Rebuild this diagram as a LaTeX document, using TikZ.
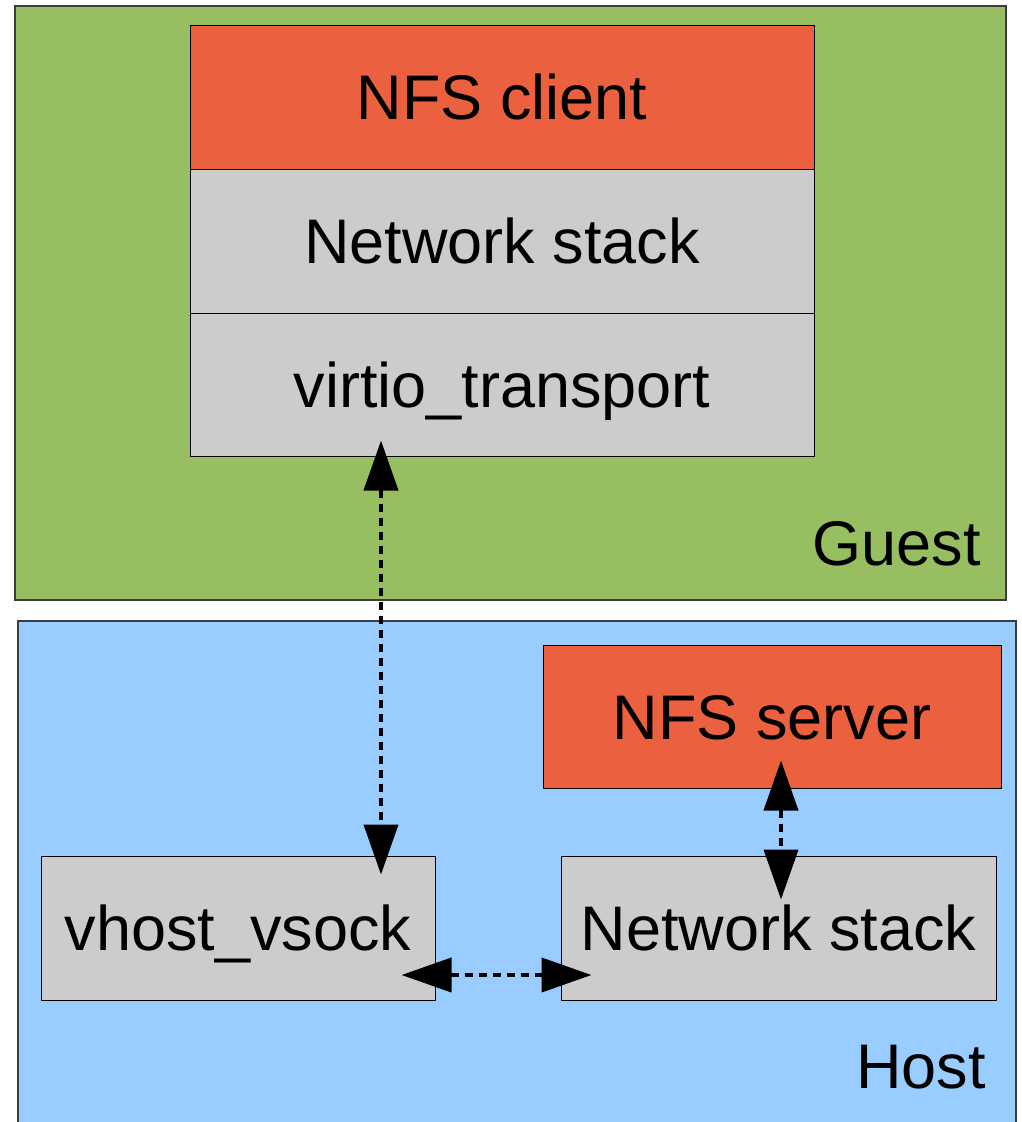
\documentclass[tikz,border=0pt]{standalone}
\usepackage{fontspec}
\setmainfont{Liberation Sans}
\usetikzlibrary{arrows.meta}
\definecolor{guestgreen}{RGB}{151,190,96}
\definecolor{hostblue}{RGB}{153,204,255}
\definecolor{nfsorange}{RGB}{235,97,63}
\definecolor{layergray}{RGB}{204,204,204}
\definecolor{frame}{RGB}{60,60,60}
\tikzset{
  layer/.style={draw=black, line width=1pt, inner sep=0pt, fill=layergray,
    text height=57pt, text depth=12pt,
    font=\fontsize{63}{70}\selectfont},
  nfs/.style={layer, fill=nfsorange},
  region/.style={draw=frame, line width=1.5pt},
  regionlabel/.style={anchor=base east, inner sep=0pt, font=\fontsize{63}{70}\selectfont},
  link/.style={line width=4pt, dash pattern=on 8pt off 6pt,
    {Triangle[length=50pt,width=34pt]}-{Triangle[length=50pt,width=34pt]}}
}
\begin{document}
\begin{tikzpicture}[x=1pt,y=-1pt]
\useasboundingbox (0,0) rectangle (1021,1122);
\clip (0,0) rectangle (1021,1122);
% regions
\draw[region, fill=guestgreen] (15,6) rectangle (1006,600);
\draw[region, fill=hostblue] (18,621) rectangle (1016,1140);
\node[regionlabel] (guestlbl) at (981,565) {Guest};
\node[regionlabel] (hostlbl) at (986,1088) {Host};
% guest stack
\node[nfs, minimum width=624pt, minimum height=144pt] (nfsc) at (502,97) {NFS client};
\node[layer, minimum width=624pt, minimum height=144pt] (netg) at (502,241) {Network stack};
\node[layer, minimum width=624pt, minimum height=143pt] (virtio) at (502,384.5) {virtio\_transport};
% host
\node[nfs, minimum width=458pt, minimum height=143pt] (nfss) at (772,716.5) {NFS server};
\node[layer, minimum width=394pt, minimum height=144pt] (vhost) at (238,928) {vhost\_vsock};
\node[layer, minimum width=435pt, minimum height=144pt] (neth) at (778.5,928) {Network stack};
% connectors
\draw[link] ([shift={(-121,-16)}]virtio.south) -- ([shift={(143,19)}]vhost.north);
\draw[link] ([shift={(-34,47)}]vhost.east) -- ([shift={(31,47)}]neth.west);
\draw[link] ([shift={(9,-28)}]nfss.south) -- ([shift={(2.5,44)}]neth.north);
\end{tikzpicture}
\end{document}
